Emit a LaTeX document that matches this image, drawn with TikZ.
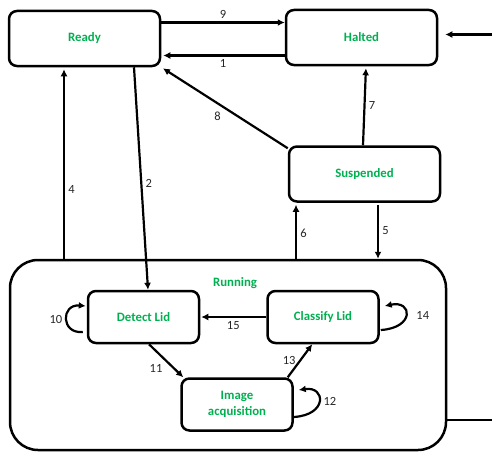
\documentclass[tikz,border=0pt]{standalone}
\usepackage{fontspec}
\setmainfont{Carlito}
\usepackage{xcolor}
\usepackage{tikz}
\usetikzlibrary{arrows.meta, positioning, calc}
\definecolor{stategreen}{RGB}{0, 176, 80}
\tikzstyle{state} = [
    rectangle, 
    rounded corners=8pt, 
    minimum width=151pt, 
    minimum height=55pt, 
    text centered, 
    draw=black, 
    line width=2.5pt,
    text=stategreen,
    font=\fontsize{12.8}{16}\selectfont\bfseries
]
\tikzstyle{substate} = [
    state,
    minimum width=111pt, 
    minimum height=52pt,
    align=center
]
\tikzstyle{runbox} = [
    rectangle, 
    rounded corners=28pt, 
    minimum width=436pt, 
    minimum height=190pt, 
    draw=black, 
    line width=2.5pt
]
\tikzstyle{arrow} = [
    line width=2.2pt, 
    -{Latex[length=7pt,width=7pt]}, 
    color=black
]
\tikzstyle{num} = [
    font=\fontsize{12.5}{14}\selectfont,
    text=black!85
]

\begin{document}
\begin{tikzpicture}[x=1pt, y=-1pt]
        \useasboundingbox (0,0) rectangle (492,452);
        % Top states
        \node[state] (ready) at (84.5,38.5) {Ready};
        \node[state] (halted) at (361.5,37.5) {Halted};
        \node[state] (susp) at (364.5,174) {Suspended};
        
        % Running state with its inner states
        \node[runbox] (running) at (228,355) {};
        \node[text=stategreen, font=\fontsize{12.8}{16}\selectfont\bfseries] (runlabel) at (235,283) {Running};
        \node[substate] (detect) at (143.5,317) {Detect Lid};
        \node[substate] (classify) at (323,317) {Classify Lid};
        \node[substate] (image) at (237,404.5) {Image\\acquisition};
        
        % Arrows between top states
        \draw[arrow] ([yshift=16pt]ready.east) -- ([yshift=16pt]ready.east -| halted.west) node[num, midway, above]{9};
        \draw[arrow, shorten >=2pt] ([yshift=-18pt]halted.west) -- ([yshift=-18pt]halted.west -| ready.east) node[num, midway, below]{1};
        \draw[arrow, shorten >=2pt] ([yshift=-3pt]susp.north west) -- (ready.south east) node[num, pos=0.5, below left=-1pt]{8};
        \draw[arrow, shorten >=2pt] ([xshift=-1.5pt]susp.north) -- ([xshift=4.5pt]halted.south) node[num, midway, right]{7};
        
        % Arrows to and from Running
        \draw[arrow, shorten >=2pt] ([xshift=-20.5pt]ready.south |- running.north) -- ([xshift=-20.5pt]ready.south) node[num, pos=0.36, right]{4};
        \draw[arrow] ([xshift=49.5pt]ready.south) -- ([xshift=4.5pt]detect.north) node[num, pos=0.52, right]{2};
        \draw[arrow, shorten >=2pt] ([xshift=-68.5pt]susp.south |- running.north) -- ([xshift=-68.5pt]susp.south) node[num, pos=0.45, right]{6};
        \draw[arrow, shorten <=2pt] ([xshift=13.5pt]susp.south) -- ([xshift=13.5pt]susp.south |- running.north) node[num, pos=0.5, right]{5};
        \draw[arrow, shorten >=7pt] ([yshift=-65pt]running.east) -- ++(70,0) |- ([yshift=3pt]halted.east);
        
        % Arrows inside Running
        \draw[arrow, shorten >=1pt] (classify.west) -- (detect.east) node[num, midway, below]{15};
        \draw[arrow] ([xshift=5.5pt]detect.south) -- ([xshift=3pt]image.north west) node[num, midway, below left=-1pt]{11};
        \draw[arrow] ([xshift=-6pt]image.north east) -- ([xshift=46pt]classify.south west) node[num, midway, left]{13};
        
        % Self loops
        \draw[arrow] ([xshift=-4pt, yshift=-15pt]detect.west) .. controls +(-22,2) and +(-25,-2) .. ([xshift=-1pt, yshift=11pt]detect.west) node[num, pos=0.5, left]{10};
        \draw[arrow] ([xshift=1pt, yshift=-13pt]classify.east) .. controls +(34,-2) and +(28,-6) .. ([xshift=5pt, yshift=11pt]classify.east) node[num, pos=0.5, right=6pt]{14};
        \draw[arrow] ([yshift=-12.5pt]image.east) .. controls +(34,-2) and +(27,-4) .. ([xshift=5pt, yshift=14.5pt]image.east) node[num, pos=0.5, right]{12};
    \end{tikzpicture}
\end{document}
